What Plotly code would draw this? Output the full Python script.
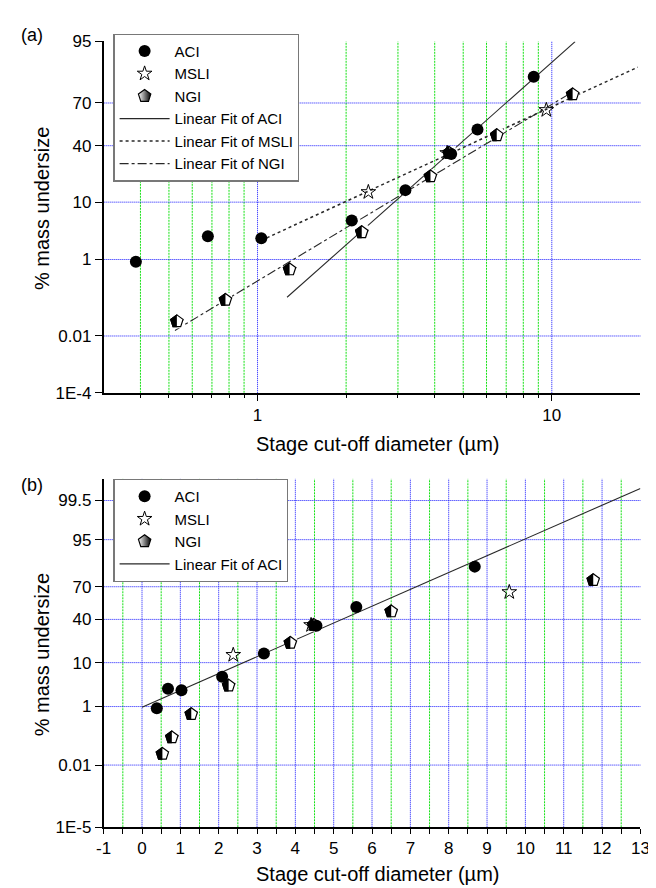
import math
import numpy as np
import plotly.graph_objects as go
from statistics import NormalDist

# ---------------- data ----------------
aci_x = [0.386, 0.678, 1.03, 2.09, 3.18, 4.55, 5.59, 8.68]
aci_y = [0.90, 2.86, 2.63, 5.3, 14.4, 34.3, 51.6, 84.2]

msli_x = [2.38, 4.41, 9.58]
msli_y = [13.6, 34.9, 65.4]

ngi_x = [0.532, 0.778, 1.285, 2.26, 3.87, 4.48, 6.5, 11.77]
ngi_y = [0.0277, 0.110, 0.607, 3.36, 20.8, 35.0, 47.4, 75.2]

# fit settings: first point used, and x-range over which each fit line is drawn
aci_fit_start_a = 4
aci_fit_range_a = [1.26, 12.0]
msli_fit_range_a = [1.03, 19.6]
ngi_fit_range_a = [0.524, 11.77]
aci_fit_range_b = [0.0, 13.0]

ticks_a = [95, 70, 40, 10, 1, 0.01, 1e-4]
ticklabels_a = ["95", "70", "40", "10", "1", "0.01", "1E-4"]
ticks_b = [99.5, 95, 70, 40, 10, 1, 0.01, 1e-5]
ticklabels_b = ["99.5", "95", "70", "40", "10", "1", "0.01", "1E-5"]
yrange_a = [1e-4, 95]
yrange_b = [1e-5, 99.9]
xrange_a = [0.3, 20]
xrange_b = [-1, 13]
xmajor_a = [1, 10]
xminor_a = [0.4, 0.5, 0.6, 0.7, 0.8, 0.9, 2, 3, 4, 5, 6, 7, 8, 9]
xmajor_b = list(range(-1, 14))
xminor_b = [v + 0.5 for v in range(-1, 13)]

# ---------------- helpers ----------------
ND = NormalDist()


def probit(pcts):
    return [ND.inv_cdf(p / 100.0) for p in pcts]


def fit_line(xs, ys, xr, logx):
    xv = np.log10(xs) if logx else np.asarray(xs, float)
    k, b = np.polyfit(xv, probit(ys), 1)
    xe = np.array(xr, float)
    xev = np.log10(xe) if logx else xe
    return list(xe), list(k * xev + b)


FONT = "Liberation Sans, Arial, sans-serif"
BLUE = "rgb(20,20,255)"
GREEN = "rgb(20,225,20)"
LINEC = "rgb(40,40,40)"
BLUEDASH = "1px,1px"
GREENDASH = "2px,1px"

fig = go.Figure()

MS = 13  # pentagon size
aci_marker = dict(symbol="circle", size=12, color="black", line=dict(width=0))
msli_marker = dict(symbol="star-open", size=11, color="black", line=dict(width=1, color="black"))


def add_panel(xa, ya, leg, fits):
    # fit lines first (markers drawn over them)
    for (fx, fy, name, dash, rank) in fits:
        fig.add_trace(go.Scatter(x=fx, y=fy, mode="lines", name=name, legendrank=rank,
                                 line=dict(color=LINEC, width=1.1 if dash != "dot" else 1.5, dash=dash),
                                 xaxis=xa, yaxis=ya, legend=leg))
    ny = probit(ngi_y)
    # NGI: legend entry (half-tone look), covered by the half-filled construction
    fig.add_trace(go.Scatter(x=ngi_x, y=ny, mode="markers", name="NGI", legendrank=3,
                             marker=dict(symbol="pentagon", size=MS, color="white",
                                         gradient=dict(type="horizontal", color="black"),
                                         line=dict(width=1.2, color="black")),
                             xaxis=xa, yaxis=ya, legend=leg))
    fig.add_trace(go.Scatter(x=ngi_x, y=ny, mode="markers", showlegend=False, hoverinfo="skip",
                             marker=dict(symbol="pentagon", size=MS, color="black",
                                         line=dict(width=0)),
                             xaxis=xa, yaxis=ya))
    R = MS / 2.0
    fig.add_trace(go.Scatter(x=ngi_x, y=ny, mode="markers", showlegend=False, hoverinfo="skip",
                             marker=dict(symbol="line-ew", size=2 * R / 1.4 + 0.6, angle=270,
                                         standoff=R / 2.0,
                                         line=dict(width=R, color="white")),
                             xaxis=xa, yaxis=ya))
    fig.add_trace(go.Scatter(x=ngi_x, y=ny, mode="markers", showlegend=False, hoverinfo="skip",
                             marker=dict(symbol="pentagon-open", size=MS, color="black",
                                         line=dict(width=1.2, color="black")),
                             xaxis=xa, yaxis=ya))
    fig.add_trace(go.Scatter(x=aci_x, y=probit(aci_y), mode="markers", name="ACI", legendrank=1,
                             marker=aci_marker, xaxis=xa, yaxis=ya, legend=leg))
    fig.add_trace(go.Scatter(x=msli_x, y=probit(msli_y), mode="markers", name="MSLI", legendrank=2,
                             marker=msli_marker, xaxis=xa, yaxis=ya, legend=leg))


fits_a = []
fx, fy = fit_line(aci_x[aci_fit_start_a:], aci_y[aci_fit_start_a:], aci_fit_range_a, True)
fits_a.append((fx, fy, "Linear Fit of ACI", "solid", 4))
fx, fy = fit_line(msli_x, msli_y, msli_fit_range_a, True)
fits_a.append((fx, fy, "Linear Fit of MSLI", "dot", 5))
fx, fy = fit_line(ngi_x, ngi_y, ngi_fit_range_a, True)
fits_a.append((fx, fy, "Linear Fit of NGI", "dashdot", 6))
add_panel("x", "y", "legend", fits_a)

fx, fy = fit_line(aci_x, aci_y, aci_fit_range_b, False)
add_panel("x2", "y2", "legend2", [(fx, fy, "Linear Fit of ACI", "solid", 4)])

# ---------------- grid lines (inside the plot area only) ----------------
shapes = []


def vgrid(vals, xref, yref, color, dash):
    for v in vals:
        shapes.append(dict(type="line", xref=xref, yref=yref + " domain", x0=v, x1=v, y0=0, y1=1,
                           layer="below", line=dict(color=color, width=1, dash=dash)))


def hgrid(vals, xref, yref, color, dash):
    for v in vals:
        shapes.append(dict(type="line", xref=xref + " domain", yref=yref, x0=0, x1=1, y0=v, y1=v,
                           layer="below", line=dict(color=color, width=1, dash=dash)))


vgrid(xminor_a, "x", "y", GREEN, GREENDASH)
vgrid(xmajor_a, "x", "y", BLUE, BLUEDASH)
hgrid(probit([t for t in ticks_a if yrange_a[0] < t < yrange_a[1]]), "x", "y", BLUE, BLUEDASH)
vgrid(xminor_b, "x2", "y2", GREEN, GREENDASH)
vgrid([v for v in xmajor_b if xrange_b[0] < v < xrange_b[1]], "x2", "y2", BLUE, BLUEDASH)
hgrid(probit([t for t in ticks_b if yrange_b[0] < t < yrange_b[1]]), "x2", "y2", BLUE, BLUEDASH)

W, H = 656, 888
xdom = [90 / W, 641 / W]
ydom_a = [1 - 384 / H, 1 - 25 / H]
ydom_b = [1 - 828 / H, 1 - 472 / H]

TICKFONT = dict(family=FONT, size=17, color="black")
axis_common = dict(showline=True, linecolor="black", linewidth=1.6, ticks="outside",
                   tickcolor="black", tickwidth=1.3, zeroline=False, showgrid=False,
                   tickfont=TICKFONT)
LEGFONT = dict(family=FONT, size=15, color="black")

fig.update_layout(
    width=W, height=H, autosize=False,
    margin=dict(l=0, r=0, t=0, b=0),
    paper_bgcolor="white", plot_bgcolor="white",
    font=dict(family=FONT, size=16, color="black"),
    shapes=shapes,
    xaxis=dict(axis_common, type="log", domain=xdom, anchor="y",
               range=[math.log10(xrange_a[0]), math.log10(xrange_a[1])],
               tickmode="array", tickvals=xmajor_a, ticktext=[str(v) for v in xmajor_a],
               ticklen=6,
               minor=dict(tickmode="array", tickvals=xminor_a, ticks="outside", ticklen=3,
                          tickcolor="black", showgrid=False)),
    yaxis=dict(axis_common, domain=ydom_a, anchor="x",
               range=probit(yrange_a), tickmode="array", tickvals=probit(ticks_a),
               ticktext=ticklabels_a, ticklen=7),
    xaxis2=dict(axis_common, domain=xdom, anchor="y2", range=xrange_b,
                tickmode="array", tickvals=xmajor_b, ticktext=[str(v) for v in xmajor_b],
                ticklen=5,
                minor=dict(tickmode="array", tickvals=xminor_b, ticks="outside", ticklen=5,
                           tickcolor="black", showgrid=False)),
    yaxis2=dict(axis_common, domain=ydom_b, anchor="x2",
                range=probit(yrange_b), tickmode="array", tickvals=probit(ticks_b),
                ticktext=ticklabels_b, ticklen=7),
    legend=dict(x=100 / W, y=1 - 17 / H, xanchor="left", yanchor="top",
                bgcolor="white", bordercolor="rgb(120,120,120)", borderwidth=1.2,
                font=LEGFONT, itemwidth=50, tracegroupgap=0, traceorder="normal"),
    legend2=dict(x=100 / W, y=1 - 472 / H, xanchor="left", yanchor="top",
                 bgcolor="white", bordercolor="rgb(120,120,120)", borderwidth=1.2,
                 font=LEGFONT, itemwidth=50, tracegroupgap=0, traceorder="normal"),
    showlegend=True,
)

ann = []
title_font = dict(family=FONT, size=20, color="black")
ann.append(dict(text="Stage cut-off diameter (µm)", x=371 / W, y=1 - 436 / H, xref="paper", yref="paper",
                showarrow=False, font=title_font, xanchor="center", yanchor="middle"))
ann.append(dict(text="Stage cut-off diameter (µm)", x=371 / W, y=1 - 876 / H, xref="paper", yref="paper",
                showarrow=False, font=title_font, xanchor="center", yanchor="middle"))
ann.append(dict(text="% mass undersize", x=27 / W, y=1 - 196 / H, xref="paper", yref="paper",
                showarrow=False, font=title_font, textangle=-90, xanchor="center", yanchor="middle"))
ann.append(dict(text="% mass undersize", x=27 / W, y=1 - 652 / H, xref="paper", yref="paper",
                showarrow=False, font=title_font, textangle=-90, xanchor="center", yanchor="middle"))
ann.append(dict(text="(a)", x=3 / W, y=1 - 18 / H, xref="paper", yref="paper",
                showarrow=False, font=dict(family=FONT, size=18, color="black"),
                xanchor="left", yanchor="middle"))
ann.append(dict(text="(b)", x=3 / W, y=1 - 478 / H, xref="paper", yref="paper",
                showarrow=False, font=dict(family=FONT, size=18, color="black"),
                xanchor="left", yanchor="middle"))
fig.update_layout(annotations=ann)

fig.write_html("out.html")
